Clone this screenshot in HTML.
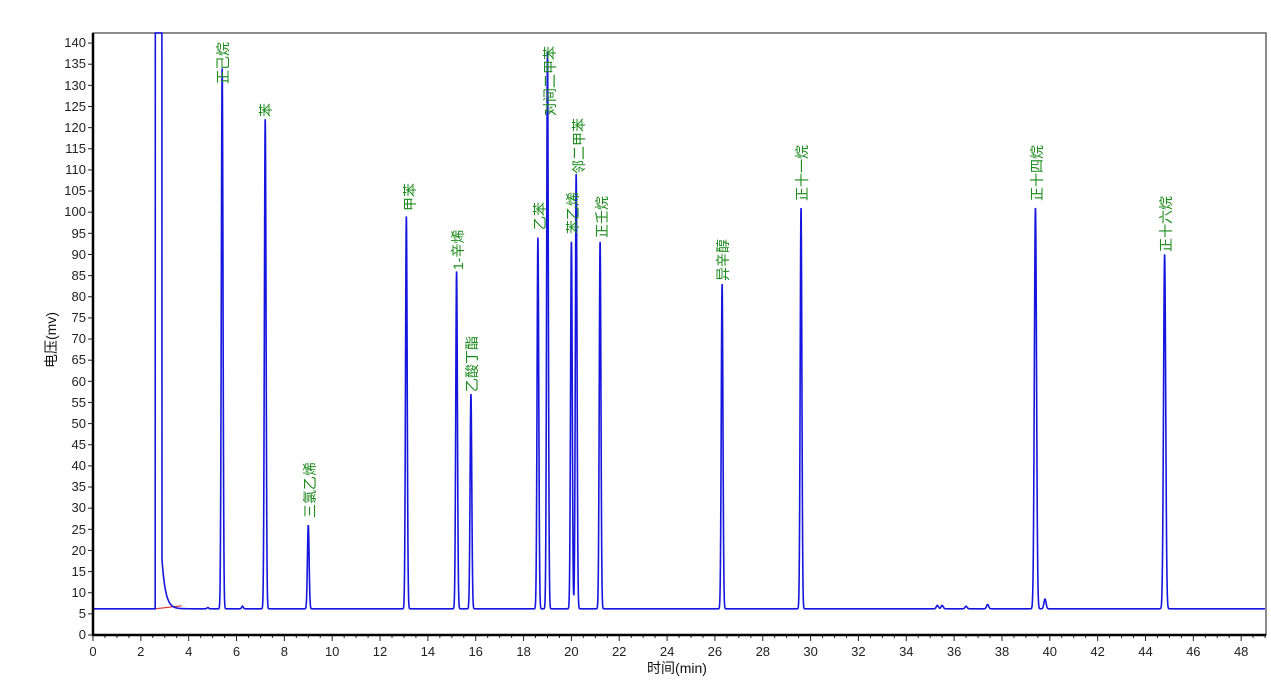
<!DOCTYPE html>
<html><head><meta charset="utf-8"><style>
html,body{margin:0;padding:0;background:#fff;}
svg{display:block;font-family:"Liberation Sans","Noto Sans CJK SC",sans-serif;}
.yl{font-size:13px;text-anchor:end;fill:#222;}
.xl{font-size:13px;text-anchor:middle;fill:#222;}
.pl{font-size:14px;fill:#1a8a1a;}
</style></head><body>
<svg id="s" width="1271" height="688" viewBox="0 0 1271 688">
<rect x="93" y="33" width="1173" height="602" fill="#fff" stroke="#666" stroke-width="1.5"/>
<g id="ticks"></g>
<path id="base" fill="none" stroke="#e03030" stroke-width="1.2" d=""/>
<path id="trace" fill="none" stroke="#1515e0" stroke-width="1.6" d=""/>
<line x1="93" y1="33" x2="93" y2="636" stroke="#000" stroke-width="2.5"/>
<line x1="92" y1="635" x2="1266" y2="635" stroke="#000" stroke-width="2.5"/>
<g class="yl">
<text x="86" y="639">0</text><text x="86" y="618">5</text><text x="86" y="597">10</text><text x="86" y="576">15</text><text x="86" y="555">20</text><text x="86" y="534">25</text><text x="86" y="512">30</text><text x="86" y="491">35</text><text x="86" y="470">40</text><text x="86" y="449">45</text><text x="86" y="428">50</text><text x="86" y="407">55</text><text x="86" y="386">60</text><text x="86" y="364">65</text><text x="86" y="343">70</text><text x="86" y="322">75</text><text x="86" y="301">80</text><text x="86" y="280">85</text><text x="86" y="259">90</text><text x="86" y="238">95</text><text x="86" y="216">100</text><text x="86" y="195">105</text><text x="86" y="174">110</text><text x="86" y="153">115</text><text x="86" y="132">120</text><text x="86" y="111">125</text><text x="86" y="90">130</text><text x="86" y="68">135</text><text x="86" y="47">140</text>
</g>
<g class="xl">
<text x="93" y="656">0</text><text x="140.8" y="656">2</text><text x="188.7" y="656">4</text><text x="236.5" y="656">6</text><text x="284.4" y="656">8</text><text x="332.2" y="656">10</text><text x="380" y="656">12</text><text x="427.9" y="656">14</text><text x="475.7" y="656">16</text><text x="523.6" y="656">18</text><text x="571.4" y="656">20</text><text x="619.2" y="656">22</text><text x="667.1" y="656">24</text><text x="714.9" y="656">26</text><text x="762.8" y="656">28</text><text x="810.6" y="656">30</text><text x="858.4" y="656">32</text><text x="906.3" y="656">34</text><text x="954.1" y="656">36</text><text x="1002" y="656">38</text><text x="1049.8" y="656">40</text><text x="1097.6" y="656">42</text><text x="1145.5" y="656">44</text><text x="1193.3" y="656">46</text><text x="1241.2" y="656">48</text>
</g>
<text x="677" y="673" font-size="14" text-anchor="middle" fill="#111">时间(min)</text>
<text transform="translate(56,340) rotate(-90)" font-size="14" text-anchor="middle" fill="#111">电压(mv)</text>
<g class="pl">
<text transform="translate(228,84) rotate(-90)">正己烷</text>
<text transform="translate(271,117) rotate(-90)">苯</text>
<text transform="translate(315,518) rotate(-90)">三氯乙烯</text>
<text transform="translate(415,211) rotate(-90)">甲苯</text>
<text transform="translate(463,270) rotate(-90)">1-辛烯</text>
<text transform="translate(477,392) rotate(-90)">乙酸丁酯</text>
<text transform="translate(545,230) rotate(-90)">乙苯</text>
<text transform="translate(555,116) rotate(-90)">对间二甲苯</text>
<text transform="translate(578,234) rotate(-90)">苯乙烯</text>
<text transform="translate(584,174) rotate(-90)">邻二甲苯</text>
<text transform="translate(607,238) rotate(-90)">正壬烷</text>
<text transform="translate(728,281) rotate(-90)">异辛醇</text>
<text transform="translate(807,201) rotate(-90)">正十一烷</text>
<text transform="translate(1042,201) rotate(-90)">正十四烷</text>
<text transform="translate(1171,252) rotate(-90)">正十六烷</text>
</g>
</svg>
<script>
var X=function(t){return 93+t*23.92},Y=function(v){return 635-v*4.228};
var g=document.getElementById('ticks'),h='';
for(var v=0;v<=140;v+=5){var y=Y(v);h+='<line x1="88" y1="'+y+'" x2="93" y2="'+y+'" stroke="#222"/>';}
for(var t=0;t<=49;t+=0.5){var x=X(t),L=(t%2==0)?6:3;h+='<line x1="'+x+'" y1="635" x2="'+x+'" y2="'+(635+L)+'" stroke="#222"/>';}
g.innerHTML=h;
var peaks=[[5.4,134],[7.2,122],[9.0,26],[13.1,99],[15.2,86],[15.8,57],[18.6,94],[19.0,138],[20.0,93],[20.2,109],[21.2,93],[26.3,83],[29.6,101],[39.4,101],[44.8,90],[39.8,8.5],[37.4,7.2],[35.3,7],[35.5,7],[36.5,6.8],[6.25,6.8],[4.8,6.5]];
var base=6.2;
function f(t){
 var v=base;
 if(t>2.6&&t<2.88) v=400;
 else if(t>=2.88) v+=Math.max(0,12*Math.exp(-(t-2.88)/0.15));
 for(var i=0;i<peaks.length;i++){var p=peaks[i],w=p[0]>30?0.045:0.035;v+=(p[1]-base)*Math.exp(-Math.pow((t-p[0])/w,2)/2);}
 return Math.min(v,150);
}
var d='';
for(var t=0;t<=49;t+=0.005){var y=Y(f(t));if(y<33)y=33;d+=(d?'L':'M')+X(t).toFixed(2)+' '+y.toFixed(2);}
document.getElementById('trace').setAttribute('d',d);
document.getElementById('base').setAttribute('d','M'+X(2.6)+' '+Y(6.2)+'L'+X(3.7)+' '+Y(6.9));
</script>
</body></html>
